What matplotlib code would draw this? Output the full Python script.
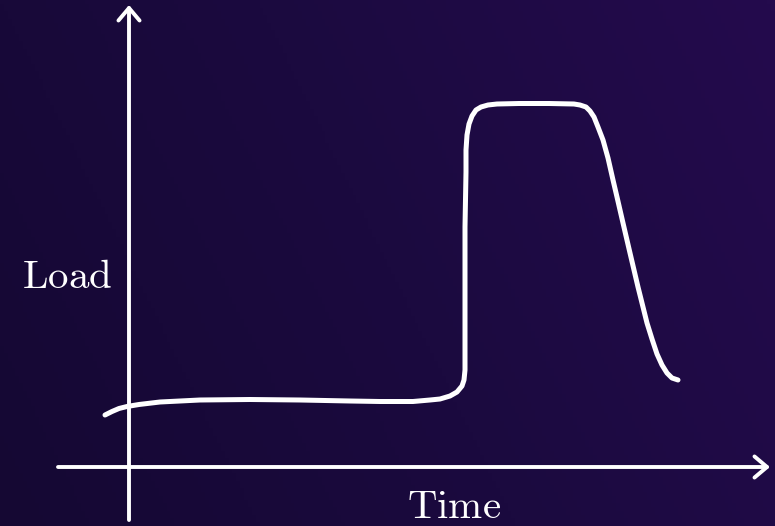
import numpy as np
import matplotlib
matplotlib.use("Agg")
import matplotlib.pyplot as plt
from matplotlib.colors import LinearSegmentedColormap

plt.rcParams['mathtext.fontset'] = 'cm'

# Sketched load curve (time, load) in arbitrary units
time = [-0.24, -0.17, -0.10, -0.02, 0.10, 0.31, 0.71, 1.21, 1.71, 2.21, 2.51,
        2.84, 3.01, 3.11, 3.21, 3.28, 3.33, 3.35, 3.36, 3.36, 3.36, 3.37, 3.37,
        3.38, 3.40, 3.43, 3.47, 3.52, 3.59, 3.68, 3.90, 4.20, 4.45, 4.51, 4.57,
        4.61, 4.65, 4.69, 4.74, 4.79, 4.84, 4.88, 4.94, 5.01, 5.09, 5.18, 5.23,
        5.28, 5.33, 5.38, 5.43, 5.49]
load = [0.52, 0.555, 0.585, 0.605, 0.625, 0.65, 0.67, 0.675, 0.67, 0.66, 0.655,
        0.655, 0.67, 0.68, 0.71, 0.75, 0.81, 0.87, 0.97, 1.60, 2.40, 2.95, 3.17,
        3.32, 3.43, 3.51, 3.57, 3.60, 3.62, 3.63, 3.635, 3.635, 3.63, 3.62, 3.60,
        3.56, 3.50, 3.40, 3.27, 3.09, 2.87, 2.70, 2.44, 2.14, 1.80, 1.44, 1.28,
        1.13, 1.02, 0.94, 0.89, 0.87]

x_label = "Time"
y_label = "Load"

fig = plt.figure(figsize=(7.75, 5.26), dpi=100)

# gradient background
bg = fig.add_axes([0, 0, 1, 1])
bg.axis('off')
nx, ny = 200, 140
gx, gy = np.meshgrid(np.linspace(0, 1, nx), np.linspace(0, 1, ny))
g = 0.75 * gx + 0.25 * (1 - gy)
cmap = LinearSegmentedColormap.from_list('bgc', ['#150833', '#1b0a3f', '#240b4d'])
bg.imshow(g, cmap=cmap, aspect='auto', extent=[0, 1, 0, 1], origin='upper')
bg.set_xlim(0, 1); bg.set_ylim(0, 1)

ax = fig.add_axes([0, 0, 1, 1])
ax.patch.set_alpha(0)
ax.set_xlim(-1.29, 6.46)
ax.set_ylim(-0.59, 4.67)
ax.axis('off')

white = 'white'
arrow_kw = dict(arrowstyle='->,head_length=0.45,head_width=0.38', color=white,
                lw=2.8, mutation_scale=20, shrinkA=0, shrinkB=0)
ax.annotate('', xy=(0, 4.62), xytext=(0, -0.53), arrowprops=arrow_kw)
ax.annotate('', xy=(6.41, 0), xytext=(-0.71, 0), arrowprops=arrow_kw)

ax.plot(time, load, color=white, lw=3.6, solid_joinstyle='round',
        solid_capstyle='round')

ax.text(-0.62, 1.79, r'$\mathrm{%s}$' % y_label, color=white, fontsize=29.5,
        ha='center', va='baseline')
ax.text(3.25, -0.515, r'$\mathrm{%s}$' % x_label, color=white, fontsize=29.5,
        ha='center', va='baseline')

fig.savefig('out.png', dpi=100)
